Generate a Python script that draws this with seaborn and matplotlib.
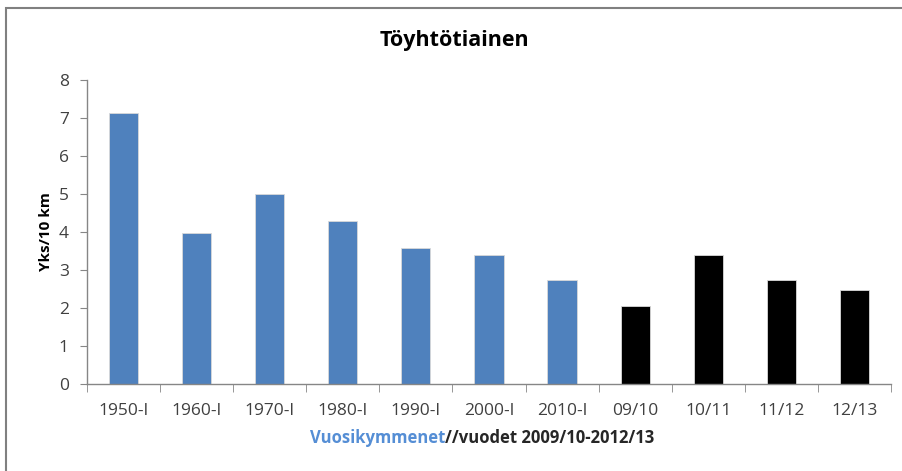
import numpy as np
import pandas as pd
import matplotlib
matplotlib.use('Agg')
import matplotlib.pyplot as plt
import seaborn as sns
from matplotlib.patches import Rectangle

categories = ['1950-l', '1960-l', '1970-l', '1980-l', '1990-l', '2000-l', '2010-l',
              '09/10', '10/11', '11/12', '12/13']
values = [7.14, 3.97, 5.0, 4.3, 3.58, 3.4, 2.75, 2.05, 3.4, 2.73, 2.47]
groups = ['decade'] * 7 + ['year'] * 4
yticks = [0, 1, 2, 3, 4, 5, 6, 7, 8]

df = pd.DataFrame({'category': categories, 'value': values, 'group': groups})

sns.set_style('white')
plt.rcParams['font.family'] = ['Open Sans', 'DejaVu Sans']

fig = plt.figure(figsize=(9.03, 4.71), dpi=100)
ax = fig.add_axes([0.0963, 0.1847, 0.8904, 0.6453])

sns.barplot(data=df, x='category', y='value', hue='group',
            palette={'decade': '#4F81BD', 'year': '#000000'},
            dodge=False, legend=False, width=0.4, saturation=1, ax=ax,
            edgecolor='#d9d9d9', linewidth=0.6)

ax.set_ylim(0, 8)
ax.set_xlim(-0.5, len(categories) - 0.5)
ax.set_yticks(yticks)
ax.set_xticks(range(len(categories)))
ax.set_xticklabels(categories)

gray = '#868686'
for side in ['top', 'right']:
    ax.spines[side].set_visible(False)
for side in ['left', 'bottom']:
    ax.spines[side].set_color(gray)
    ax.spines[side].set_linewidth(1.0)

ax.tick_params(axis='y', which='major', direction='out', length=5, color=gray,
               labelsize=12.5, labelcolor='#404040', pad=8, left=True)
ax.tick_params(axis='x', which='major', length=0, labelsize=12.5,
               labelcolor='#404040', pad=14)
ax.set_xticks(np.arange(-0.5, len(categories) + 0.5, 1), minor=True)
ax.tick_params(axis='x', which='minor', direction='out', length=6, color=gray, bottom=True)

ax.set_xlabel('')
ax.set_ylabel('Yks/10 km', fontsize=11, fontweight='bold', color='black', labelpad=4)

fig.text(0.503, 0.915, 'Töyhtötiainen', ha='center', va='center',
         fontsize=15.5, fontweight='bold', color='black')

t1 = fig.text(0.493, 0.07, 'Vuosikymmenet', ha='right', va='center',
              fontsize=12, fontweight='bold', color='#558ED5')
t2 = fig.text(0.493, 0.07, '//vuodet 2009/10-2012/13', ha='left', va='center',
              fontsize=12, fontweight='bold', color='#262626')

fig.patches.append(Rectangle((6 / 903, -0.1), 1.2, 1 - 8 / 471 + 0.1,
                             transform=fig.transFigure, fill=False,
                             edgecolor='#808080', linewidth=1.5))

fig.savefig('out.png', dpi=100)
